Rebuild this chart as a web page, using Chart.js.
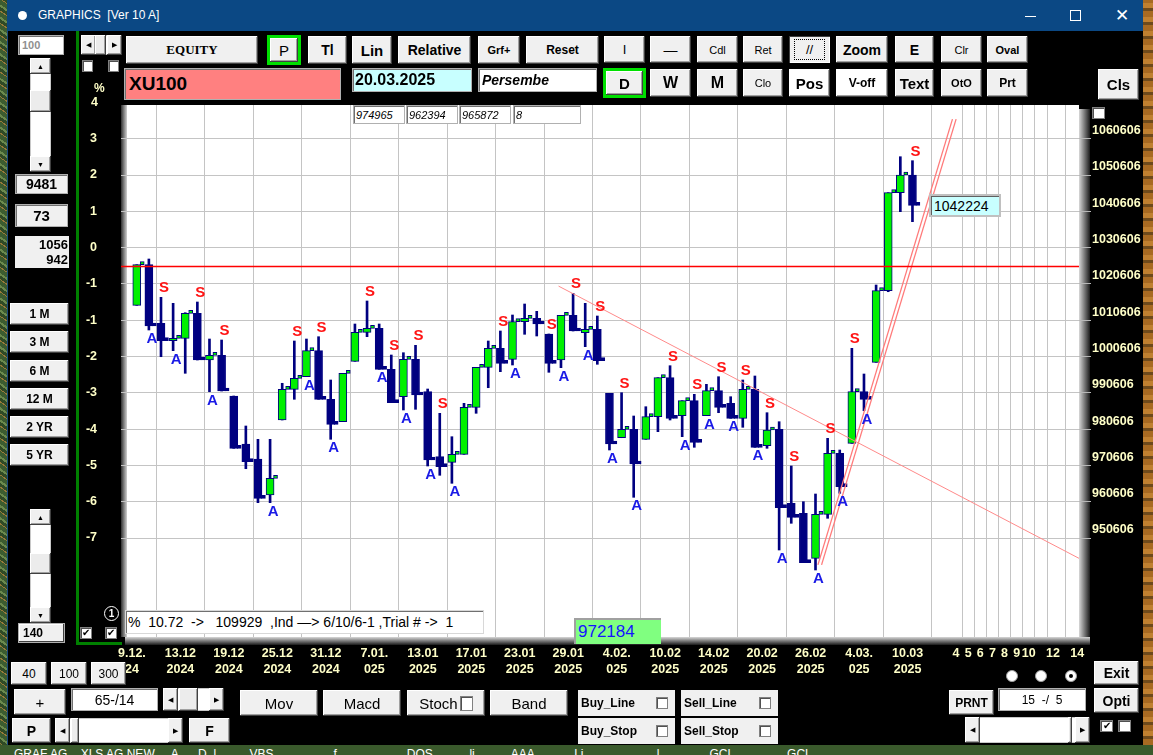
<!DOCTYPE html>
<html>
<head>
<meta charset="utf-8">
<title>GRAPHICS</title>
<script src="https://cdn.jsdelivr.net/npm/chart.js@4.4.1/dist/chart.umd.min.js"></script>
<style>
  body { margin:0; width:1153px; height:755px; overflow:hidden; position:relative;
         background: repeating-linear-gradient(35deg,#2f4a26 0 3px,#6b8a4e 3px 5px,#3c5c30 5px 9px,#9a7a3a 9px 10px);
         font-family:"Liberation Sans", Arial, sans-serif; }
  .a { position:absolute; box-sizing:border-box; }
  .btn { background:#f0f0f0; box-shadow: inset -1px -1px #404040, inset 1px 1px #ffffff, inset -2px -2px #a0a0a0;
         display:flex; align-items:center; justify-content:center; font-weight:bold; font-size:13px; color:#000; }
  .fld { border:1px solid #b0b0b0; box-shadow: inset 1px 1px #707070; display:flex; align-items:center; color:#000; background:#fff; }
  .chk { background:#fff; border:1px solid #808080; box-shadow: inset 1px 1px #505050;
         font-size:10px; line-height:10px; text-align:center; color:#000; }
  .yel { color:#ffffc8; font: bold 12.5px "Liberation Sans",Arial,sans-serif; }
  .arr { font-size:7px; font-weight:normal; }
</style>
</head>
<body>
<div class="a" style="left:7px;top:0;width:1136px;height:745px;background:#000;border-left:1px solid #1a4a80;"></div>
<div class="a" style="left:7px;top:0;width:1136px;height:31px;background:#0b4884;"></div>
<div class="a" style="left:18px;top:11px;width:9px;height:9px;border-radius:50%;background:#fff;"></div>
<div class="a" style="left:38px;top:8px;color:#fff;font-size:12px;">GRAPHICS&nbsp; [Ver 10 A]</div>
<div class="a" style="left:1025px;top:16px;width:11px;height:1px;background:#fff;"></div>
<div class="a" style="left:1070px;top:10px;width:11px;height:11px;border:1px solid #fff;"></div>
<div class="a" style="left:1115px;top:5px;color:#fff;font-size:17px;font-family:'DejaVu Sans';">✕</div>
<div class="a" style="left:0;top:745px;width:1153px;height:10px;overflow:hidden;background:#3a5a2c;">
  <div style="position:absolute;top:2px;left:14px;color:#fff;font-size:12px;white-space:pre;">GRAF AG    XLS AG NEW     A      D  l          VBS                  f                     DOS           li           AAA            Li                      l               GCL                GCL</div>
</div>
<div class="a" style="left:1143px;top:0;width:10px;height:745px;background:repeating-linear-gradient(0deg,#a86a22 0 6px,#6e4a1c 6px 9px,#c08030 9px 14px);"></div>

<div class="a" style="left:80px;top:98px;width:1063px;height:592px;">
  <canvas id="myChart" width="1063" height="592"></canvas>
</div>

<div id="ui"></div>

<script>
// candles (right axis)
const opens = [1014711, 1025895, 1009752, 1004959, 1005620, 1012507, 999642, 1000937, 989725, 976502,
  972370, 962452, 983113, 991571, 995042, 1002204, 988816, 982645, 999284, 1007273,
  1008375, 997080, 989532, 999835, 990909, 973004, 971461, 973664, 986612, 997631,
  1002865, 999835, 1010193, 1011130, 1006805, 999642, 1011956, 1007163, 1008100, 990469,
  978237, 980551, 977797, 984022, 994766, 984298, 988430, 984298, 991185, 987714,
  983581, 991571, 976034, 980551, 960166, 957411, 945014, 957136, 973940, 976694,
  990909, 999009, 1018733, 1045730, 1050606];
const highs = [1025895, 1027466, 1016915, 1015262, 1012672, 1015620, 1005427, 1005152, 989725, 981461,
  977797, 977797, 993224, 1004876, 1005427, 1006061, 994133, 995978, 1009559, 1015896,
  1009559, 1001020, 1001653, 1003692, 991653, 984959, 978513, 987714, 997631, 1004876,
  1007631, 1012039, 1015069, 1013058, 1006805, 1011956, 1018017, 1015262, 1011763, 990469,
  990634, 984215, 986777, 994766, 998072, 988430, 990193, 992948, 995042, 989532,
  994133, 995235, 985124, 982645, 970441, 960607, 962728, 978072, 974849, 1002865,
  995785, 1020303, 1045730, 1055647, 1054545];
const lows = [1014711, 1007907, 1000551, 1002204, 995978, 999642, 990909, 991102, 975317, 969697,
  960331, 960331, 983113, 988816, 995042, 988816, 977797, 982645, 999284, 1006061,
  997080, 987879, 985868, 986061, 970441, 967879, 965676, 973664, 984959, 992011,
  996419, 998265, 1006722, 1006254, 996254, 997521, 1007631, 1003306, 998458, 974849,
  978237, 961819, 977797, 979890, 983113, 978513, 975593, 984298, 985124, 983581,
  981102, 975593, 975317, 947301, 954656, 943803, 941791, 956034, 962921, 976694,
  985675, 999009, 1018457, 1040496, 1037741];
const closes = [1025895, 1009009, 1004959, 1005620, 1012507, 999642, 1000937, 991102, 975317, 971626,
  961543, 967053, 991571, 994601, 1002204, 988816, 981929, 995978, 1007273, 1008375,
  997080, 987879, 999835, 990000, 972094, 970249, 973664, 986612, 997631, 1002865,
  998733, 1010193, 1011130, 1009559, 998733, 1011956, 1007631, 1008100, 999449, 976502,
  980551, 970992, 984022, 994766, 983581, 988430, 976970, 991185, 986612, 983581,
  991571, 975593, 980359, 958954, 956309, 943803, 957136, 973940, 964739, 990909,
  988816, 1018733, 1045730, 1050606, 1042224];

// signal letters: S over the high, A under the low
const sellBars = [2, 5, 7, 13, 15, 19, 21, 23, 25, 30, 34, 36, 38, 40, 44, 46, 48, 50, 52, 54, 57, 59, 64];
const buyBars = [1, 3, 6, 11, 14, 16, 20, 22, 24, 26, 31, 35, 37, 39, 41, 45, 47, 49, 51, 53, 56, 58, 60];

// x axis labels
const dateTop = ['9.12.', '13.12', '19.12', '25.12', '31.12', '7.01.', '13.01', '17.01', '23.01', '29.01',
  '4.02.', '10.02', '14.02', '20.02', '26.02', '4.03.', '10.03'];
const dateBottom = ['24', '2024', '2024', '2024', '2024', '025', '2025', '2025', '2025', '2025',
  '025', '2025', '2025', '2025', '2025', '025', '2025'];
const futureDays = ['4', '5', '6', '7', '8', '9', '10', '', '12', '14'];
const futurePos = [68, 69, 70, 71, 72, 73, 74, 75, 76, 78];

// y axis labels
const priceTicks = [1060606, 1050606, 1040606, 1030606, 1020606, 1010606, 1000606,
  990606, 980606, 970606, 960606, 950606];
const pctLabels = ['3', '2', '1', '0', '-1', '-1', '-2', '-3', '-4', '-5', '-6', '-7'];

// drawn lines
const redLevel = 1025400;
const downTrendX = [35.2, 78.2];
const downTrendY = [1020000, 944900];
const upTrendX = [56.6, 67.7];
const upTrend2X = [56.9, 68.0];
const upTrendY = [943200, 1066000];

const NAVY = '#000080';
const GREEN = '#00f000';
const yMin = 923334, yMax = 1069890, labelShift = 2204;
const xMin = -0.9, xMax = 78.14;
const off = 0.4;

const upDown = closes.map((c, i) => c >= opens[i]);
const bodyColors = upDown.map(u => u ? GREEN : NAVY);

const tickPos = dateTop.map((d, i) => i * 4).concat(futurePos);
const tickText = dateTop.map((d, i) => [d, dateBottom[i]]).concat(futureDays);

const axisFont = { family: '"Liberation Sans",Arial,sans-serif', size: 12.5, weight: 'bold', lineHeight: 1.3 };

const plotFrame = {
  id: 'plotFrame',
  beforeDraw(chart) {
    const { ctx, chartArea: a } = chart;
    ctx.save();
    ctx.fillStyle = '#ffffff';
    ctx.fillRect(a.left, a.top, a.right - a.left, a.bottom - a.top);
    let g = ctx.createLinearGradient(a.right, 0, a.right + 11, 0);
    g.addColorStop(0, '#d8d8d8'); g.addColorStop(1, '#1a1a1a');
    ctx.fillStyle = g;
    ctx.fillRect(a.right, a.top + 4, 11, a.bottom - a.top + 4);
    g = ctx.createLinearGradient(0, a.bottom, 0, a.bottom + 8);
    g.addColorStop(0, '#d8d8d8'); g.addColorStop(1, '#1a1a1a');
    ctx.fillStyle = g;
    ctx.fillRect(a.left + 4, a.bottom, a.right - a.left + 7, 8);
    g = ctx.createLinearGradient(a.left, 0, a.left + 6, 0);
    g.addColorStop(0, '#303030'); g.addColorStop(1, '#d0d0d0');
    ctx.fillStyle = g;
    ctx.fillRect(a.left, a.top, 6, a.bottom - a.top);
    ctx.restore();
  }
};

const letters = {
  id: 'letters',
  afterDatasetsDraw(chart) {
    const { ctx, scales } = chart;
    ctx.save();
    ctx.font = 'bold 15px "Liberation Sans", Arial, sans-serif';
    ctx.textAlign = 'center';
    ctx.textBaseline = 'middle';
    ctx.fillStyle = '#ff1414';
    sellBars.forEach(i => ctx.fillText('S', scales.x.getPixelForValue(i + off) + 3, scales.y.getPixelForValue(highs[i]) - 9));
    ctx.fillStyle = '#1a1ae6';
    buyBars.forEach(i => ctx.fillText('A', scales.x.getPixelForValue(i + off) + 3, scales.y.getPixelForValue(lows[i]) + 9));
    ctx.restore();
  }
};

const data = {
  datasets: [
    {
      type: 'line', order: 1,
      data: [{ x: xMin, y: redLevel }, { x: xMax, y: redLevel }],
      borderColor: '#ff0000', borderWidth: 1.5, pointRadius: 0
    },
    {
      type: 'line', order: 1,
      data: downTrendX.map((x, i) => ({ x: x, y: downTrendY[i] })),
      borderColor: '#ff8a8a', borderWidth: 1, pointRadius: 0
    },
    {
      type: 'line', order: 1,
      data: upTrendX.map((x, i) => ({ x: x, y: upTrendY[i] })),
      borderColor: '#ff7a7a', borderWidth: 1.3, pointRadius: 0
    },
    {
      type: 'line', order: 1,
      data: upTrend2X.map((x, i) => ({ x: x, y: upTrendY[i] })),
      borderColor: '#ff7a7a', borderWidth: 1.3, pointRadius: 0
    },
    {
      type: 'bar', order: 4, grouped: false,
      data: highs.map((h, i) => ({ x: i + off, y: [lows[i], h] })),
      backgroundColor: NAVY, barThickness: 2
    },
    {
      type: 'bar', order: 3, grouped: false,
      data: opens.map((o, i) => ({ x: i + off, y: [o, closes[i]] })),
      backgroundColor: bodyColors, borderColor: NAVY, borderWidth: 1, borderSkipped: false,
      barThickness: 8, minBarLength: 2
    },
    {
      type: 'bar', order: 2, grouped: false,
      data: closes.map((c, i) => ({ x: i + off + 0.45, y: [c, c] })),
      backgroundColor: bodyColors, borderColor: NAVY, borderWidth: 1, borderSkipped: false,
      barThickness: 4, minBarLength: 3
    }
  ]
};

const config = {
  type: 'bar',
  data: data,
  options: {
    responsive: false,
    animation: false,
    layout: { padding: { top: 7, left: 0, right: 0, bottom: 0 } },
    plugins: { legend: { display: false }, tooltip: { enabled: false } },
    scales: {
      x: {
        type: 'linear', min: xMin, max: xMax, offset: false,
        grid: { color: '#c4c4c4', drawTicks: false },
        border: { display: false },
        afterBuildTicks: s => { s.ticks = tickPos.map(v => ({ value: v })); },
        afterFit: s => { s.height = 53; s.paddingLeft = 0; s.paddingRight = 0; },
        ticks: {
          autoSkip: false, maxRotation: 0, padding: 8, color: '#ffffc8', font: axisFont,
          callback: (v, i) => tickText[i]
        }
      },
      y: {
        type: 'linear', position: 'right', weight: 0, min: yMin, max: yMax,
        grid: { color: '#c4c4c4', drawTicks: true, tickLength: 12, tickColor: '#b8b8b8' },
        border: { display: false },
        afterBuildTicks: s => { s.ticks = priceTicks.map(v => ({ value: v })); },
        afterFit: s => { s.width = 12; s.paddingTop = 0; s.paddingBottom = 0; },
        ticks: { display: false }
      },
      y2: {
        type: 'linear', position: 'right', weight: 1, min: yMin - labelShift, max: yMax - labelShift,
        grid: { display: false, drawTicks: false },
        border: { display: false },
        afterBuildTicks: s => { s.ticks = priceTicks.map(v => ({ value: v })); },
        afterFit: s => { s.width = 52; s.paddingTop = 0; s.paddingBottom = 0; },
        ticks: { padding: 1, color: '#ffffc8', font: axisFont, callback: v => String(v) }
      },
      yl: {
        type: 'linear', position: 'left', min: yMin, max: yMax,
        grid: { display: false, drawTicks: false },
        border: { display: false },
        afterBuildTicks: s => { s.ticks = priceTicks.map(v => ({ value: v })); },
        afterFit: s => { s.width = 41; s.paddingTop = 0; s.paddingBottom = 0; },
        ticks: { padding: 24, color: '#ffffc8', font: axisFont, callback: (v, i) => pctLabels[i] }
      }
    }
  },
  plugins: [plotFrame, letters]
};

const myChart = new Chart(document.getElementById('myChart'), config);

// ---- surrounding window controls ----
const ui = document.getElementById('ui');
function box(x, y, w, h, cls, html, style) {
  const d = document.createElement('div');
  d.className = 'a ' + (cls || '');
  d.style.cssText = 'left:' + x + 'px;top:' + y + 'px;width:' + w + 'px;height:' + h + 'px;' + (style || '');
  d.innerHTML = html || '';
  ui.appendChild(d);
  return d;
}
function vscroll(x, y, w, h, ty, th) {
  box(x, y, w, h, '', '', 'background:#fff;border:1px solid #c8c8c8;');
  box(x, y, w, 16, 'btn', '<span class="arr">▲</span>');
  box(x, y + h - 16, w, 16, 'btn', '<span class="arr">▼</span>');
  box(x, ty, w, th, 'btn', '', 'background:#ececec;');
}
function hscroll(x, y, w, h, tx, tw) {
  box(x, y, w, h, '', '', 'background:#fff;border:1px solid #c8c8c8;');
  box(x, y, 15, h, 'btn', '<span class="arr">◀</span>');
  box(x + w - 15, y, 15, h, 'btn', '<span class="arr">▶</span>');
  if (tw) box(tx, y, tw, h, 'btn', '', 'background:#ececec;');
}
const sans = '"Liberation Sans",Arial,sans-serif';

// top row
box(126, 36, 132, 28, 'btn', 'EQUITY', 'font:bold 13px "Liberation Serif",serif;');
box(267, 35, 34, 30, '', '', 'border:3px solid #00e000;');
box(270, 38, 28, 24, 'btn', 'P', 'font-weight:normal;font-size:15px;');
box(308, 36, 39, 28, 'btn', 'Tl', 'font-size:14px;');
box(352, 36, 40, 28, 'btn', 'Lin', 'font-size:15px;');
box(398, 36, 73, 28, 'btn', 'Relative', 'font-size:14px;');
box(478, 36, 42, 28, 'btn', 'Grf+', 'font-size:11px;');
box(526, 36, 73, 28, 'btn', 'Reset', 'font-size:12px;');
box(604, 36, 41, 27, 'btn', 'I', 'font-weight:normal;font-size:13px;');
box(650, 36, 41, 27, 'btn', '—', 'font-weight:normal;font-size:14px;');
box(697, 36, 41, 27, 'btn', 'Cdl', 'font-weight:normal;font-size:11px;');
box(743, 36, 40, 27, 'btn', 'Ret', 'font-weight:normal;font-size:11px;');
box(789, 36, 41, 27, 'btn', '<span style="outline:1px dotted #000;padding:2px 11px;">//</span>', 'font-weight:normal;font-size:13px;box-shadow:inset 1px 1px #404040,inset -1px -1px #fff;');
box(836, 36, 52, 27, 'btn', 'Zoom', 'font-size:14px;');
box(895, 36, 39, 27, 'btn', 'E', 'font-size:14px;');
box(941, 36, 41, 27, 'btn', 'Clr', 'font-weight:normal;font-size:11px;');
box(987, 36, 41, 27, 'btn', 'Oval', 'font-size:11px;');

// second row
box(124, 68, 217, 32, 'fld', 'XU100', 'background:#ff8080;font:bold 19px ' + sans + ';padding-left:4px;');
box(352, 68, 120, 24, 'fld', '20.03.2025', 'background:#c8ffff;font:bold 16px ' + sans + ';padding-left:2px;');
box(478, 68, 119, 24, 'fld', 'Persembe', 'font:italic bold 14px ' + sans + ';padding-left:3px;');
box(603, 68, 43, 30, '', '', 'border:3px solid #00e000;');
box(606, 71, 37, 24, 'btn', 'D', 'font-size:15px;');
box(650, 69, 41, 28, 'btn', 'W', 'font-size:16px;');
box(697, 69, 41, 28, 'btn', 'M', 'font-size:16px;');
box(743, 69, 40, 28, 'btn', 'Clo', 'font-weight:normal;font-size:11px;');
box(789, 69, 41, 28, 'btn', 'Pos', 'background:#fff;font-size:15px;');
box(836, 69, 52, 28, 'btn', 'V-off', 'background:#fff;font-size:12px;');
box(895, 69, 39, 28, 'btn', 'Text', 'font-size:15px;');
box(941, 69, 41, 28, 'btn', 'OtO', 'font-size:11px;');
box(987, 69, 41, 28, 'btn', 'Prt', 'font-size:12px;');
box(1098, 69, 41, 31, 'btn', 'Cls', 'font-size:15px;');

// info boxes
['974965', '962394', '965872', '8'].forEach((t, i) => {
  box([353, 406, 459, 513][i], 105, i === 3 ? 68 : 52, 19, 'fld', t, 'font:italic 11px ' + sans + ';padding-left:2px;');
});
box(1092, 107, 13, 12, 'chk');
box(929, 194, 72, 23, 'fld', '1042224', 'background:#c8ffff;font:14px ' + sans + ';padding-left:3px;border:2px solid #c0c0c0;box-shadow:inset 1px 1px #606060;');

// left panel
box(76, 31, 3, 614, '', '', 'background:#008000;');
box(76, 642, 46, 3, '', '', 'background:#008000;');
box(18, 35, 46, 20, 'fld', '100', 'color:#909090;font:bold 11px ' + sans + ';padding-left:3px;');
hscroll(81, 35, 41, 20, 95, 11);
box(82, 60, 11, 12, 'chk');
box(108, 60, 11, 12, 'chk');
box(94, 81, 12, 14, 'yel', '%', 'font-size:12px;');
box(91, 95, 12, 16, 'yel', '4', '');
vscroll(30, 58, 21, 114, 90, 22);
box(15, 174, 53, 20, 'fld', '9481', 'justify-content:center;background:#f0f0f0;font:bold 14px ' + sans + ';');
box(15, 204, 53, 23, 'fld', '73', 'justify-content:center;background:#f0f0f0;font:bold 15px ' + sans + ';');
box(15, 236, 54, 32, '', '1056<br>942', 'background:#f0f0f0;text-align:right;font:bold 13px/15px ' + sans + ';padding:1px 1px 0 0;');
['1 M', '3 M', '6 M', '12 M', '2 YR', '5 YR'].forEach((t, i) => {
  box(10, [303, 331, 360, 388, 416, 444][i], 59, 22, 'btn', t, 'font-size:12px;');
});
vscroll(30, 509, 21, 114, 553, 21);
box(18, 623, 47, 20, 'fld', '140', 'background:#f0f0f0;font:bold 12px ' + sans + ';padding-left:4px;box-shadow:inset -1px -1px #404040,inset 1px 1px #fff;');
box(104, 606, 15, 15, '', '1', 'border:1px solid #fff;border-radius:50%;background:#000;color:#fff;font:bold 10px/13px ' + sans + ';text-align:center;');
box(80, 627, 12, 12, 'chk', '✔');
box(105, 627, 12, 12, 'chk', '✔');

// plot overlays
box(125, 610, 359, 24, 'fld', '%&nbsp; 10.72&nbsp; -&gt;&nbsp;&nbsp; 109929&nbsp; ,Ind —&gt; 6/10/6-1 ,Trial # -&gt;&nbsp; 1', 'font:14px ' + sans + ';padding-left:2px;border-color:#d8d8d8;');
box(574, 618, 87, 26, '', '972184', 'background:#80ff80;border-top:2px solid #a0a0a0;border-left:2px solid #a0a0a0;color:#1414ff;font:17px ' + sans + ';padding:2px 0 0 2px;');

// bottom controls
box(11, 662, 36, 23, 'btn', '40', 'font-weight:normal;font-size:12px;');
box(51, 662, 36, 23, 'btn', '100', 'font-weight:normal;font-size:12px;');
box(91, 662, 35, 23, 'btn', '300', 'font-weight:normal;font-size:12px;');
box(14, 689, 52, 26, 'btn', '+', 'font-weight:normal;font-size:15px;');
box(71, 688, 87, 23, 'fld', '65-/14', 'justify-content:center;font:14px ' + sans + ';');
hscroll(163, 688, 61, 23, 179, 19);
box(12, 718, 39, 25, 'btn', 'P', 'font-size:14px;');
hscroll(55, 718, 128, 25, 71, 8);
box(189, 718, 41, 25, 'btn', 'F', 'font-size:14px;');
box(240, 690, 78, 26, 'btn', 'Mov', 'font-weight:normal;font-size:15px;');
box(323, 690, 78, 26, 'btn', 'Macd', 'font-weight:normal;font-size:15px;');
box(407, 690, 78, 26, 'btn', 'Stoch <span class="chk" style="display:inline-block;width:11px;height:13px;margin-left:2px;"></span>', 'font-weight:normal;font-size:15px;');
box(490, 690, 78, 26, 'btn', 'Band', 'font-weight:normal;font-size:15px;');
[['Buy_Line', 578, 690], ['Sell_Line', 681, 690], ['Buy_Stop', 578, 718], ['Sell_Stop', 681, 718]].forEach(b => {
  box(b[1], b[2], 97, 26, '', b[0], 'background:#f0f0f0;font:bold 12px ' + sans + ';padding:6px 0 0 3px;');
  box(b[1] + 78, b[2] + 7, 12, 12, 'chk');
});
[1012, 1041, 1071].forEach((x, i) => {
  box(x - 6, 670, 12, 12, '', i === 2 ? '<div style="width:4px;height:4px;background:#000;border-radius:50%;margin:3px;"></div>' : '', 'background:#fff;border-radius:50%;border:1px solid #a0a0a0;');
});
box(1094, 661, 45, 24, 'btn', 'Exit', 'font-size:14px;');
box(1094, 688, 45, 25, 'btn', 'Opti', 'font-size:14px;');
box(949, 690, 45, 25, 'btn', 'PRNT', 'font-size:12px;');
box(998, 688, 88, 23, 'fld', '15 &nbsp;-/ &nbsp;5', 'justify-content:center;font:12px ' + sans + ';');
hscroll(965, 717, 125, 26, 1068, 4);
box(1100, 720, 13, 12, 'chk', '✔');
box(1118, 720, 13, 12, 'chk');
</script>
</body>
</html>
